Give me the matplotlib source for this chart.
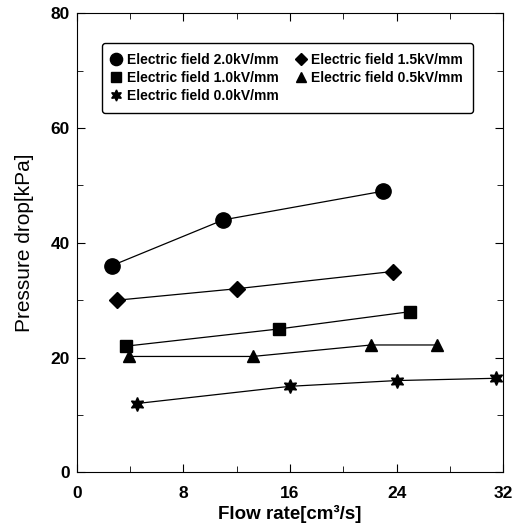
import matplotlib
matplotlib.use('Agg')
import matplotlib.pyplot as plt
from matplotlib.ticker import MultipleLocator

plt.rcParams['font.family'] = ['Liberation Sans', 'DejaVu Sans']
plt.rcParams['font.weight'] = 'bold'

# flow rate [cm3/s] and pressure drop [kPa] per electric field
FLOW_20 = [2.6, 11.0, 23.0]
DP_20 = [36.0, 44.0, 49.0]
FLOW_15 = [3.0, 12.0, 23.7]
DP_15 = [30.0, 32.0, 35.0]
FLOW_10 = [3.7, 15.2, 25.0]
DP_10 = [22.0, 25.0, 28.0]
FLOW_05 = [3.9, 13.2, 22.1, 27.0]
DP_05 = [20.2, 20.2, 22.2, 22.2]
FLOW_00 = [4.5, 16.0, 24.0, 31.5]
DP_00 = [12.0, 15.0, 16.0, 16.4]

fig = plt.figure(figsize=(5.23, 5.29), dpi=100)
ax = fig.add_axes([0.147, 0.107, 0.815, 0.868])

kw = dict(color='k', linewidth=0.9, markeredgecolor='k', markerfacecolor='k')
l20, = ax.plot(FLOW_20, DP_20, marker='o', markersize=11, label='Electric field 2.0kV/mm', **kw)
l10, = ax.plot(FLOW_10, DP_10, marker='s', markersize=9, label='Electric field 1.0kV/mm', **kw)
l00, = ax.plot(FLOW_00, DP_00, marker=(6, 1, 0), markersize=10, label='Electric field 0.0kV/mm', **kw)
l15, = ax.plot(FLOW_15, DP_15, marker='D', markersize=8, label='Electric field 1.5kV/mm', **kw)
l05, = ax.plot(FLOW_05, DP_05, marker='^', markersize=9, label='Electric field 0.5kV/mm', **kw)

ax.set_xlim(0, 32)
ax.set_ylim(0, 80)
ax.xaxis.set_major_locator(MultipleLocator(8))
ax.xaxis.set_minor_locator(MultipleLocator(4))
ax.yaxis.set_major_locator(MultipleLocator(20))
ax.yaxis.set_minor_locator(MultipleLocator(10))
ax.tick_params(which='both', direction='in', top=True, right=True, labelsize=12.5)
ax.tick_params(which='major', length=6, pad=5)
ax.tick_params(which='minor', length=4)
ax.tick_params(axis='x', which='major', pad=10)
ax.set_xlabel('Flow rate[cm³/s]', fontsize=13.5, fontweight='bold', labelpad=3)
ax.set_ylabel('Pressure drop[kPa]', fontsize=15, fontweight='normal', labelpad=12)

leg = ax.legend(handles=[l20, l10, l00, l15, l05], ncol=2, loc='upper left',
                bbox_to_anchor=(0.06, 0.935), borderaxespad=0, fontsize=10,
                handlelength=0.6, handletextpad=0.45, columnspacing=1.3,
                labelspacing=0.3, markerscale=0.8, fancybox=True, edgecolor='k',
                framealpha=1, borderpad=0.7)
for line in leg.get_lines():
    line.set_linestyle('')
leg.get_frame().set_linewidth(1.0)
for t in leg.get_texts():
    t.set_fontweight('bold')

fig.savefig('out.png', dpi=100)
